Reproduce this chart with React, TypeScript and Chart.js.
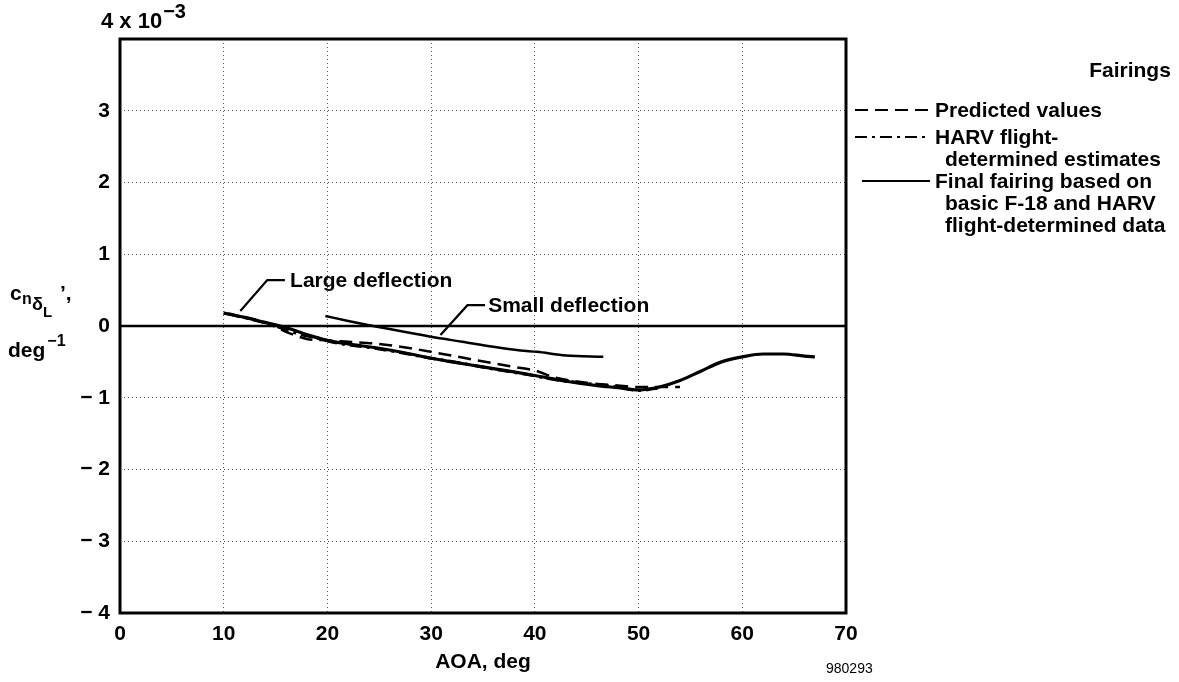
import { useEffect, useRef } from 'react';
import { Chart, registerables } from 'chart.js';

Chart.register(...registerables);

// ---------- data ----------
const X_TICKS = [0, 10, 20, 30, 40, 50, 60, 70];
const Y_TICKS = [-4, -3, -2, -1, 0, 1, 2, 3, 4];

// Final fairing, large deflection (solid)
const LARGE_AOA = [10, 12, 14, 16, 18, 20, 22, 25, 28, 30, 32, 35, 38, 40, 43, 46, 48, 50, 52, 54, 56, 58, 60, 62, 64, 66, 67];
const LARGE_FINAL = [0.18, 0.12, 0.05, -0.02, -0.12, -0.2, -0.25, -0.31, -0.39, -0.45, -0.5, -0.57, -0.64, -0.69, -0.77, -0.83, -0.86, -0.89, -0.85, -0.76, -0.63, -0.5, -0.43, -0.39, -0.39, -0.42, -0.43];

// HARV flight-determined estimates (dash-dot)
const HARV_AOA = [10.5, 13, 15, 17, 19, 21, 24, 27, 30, 33, 36, 39, 42, 45, 48, 50, 52];
const HARV_EST = [0.17, 0.08, 0.0, -0.1, -0.17, -0.24, -0.3, -0.37, -0.45, -0.52, -0.6, -0.67, -0.75, -0.8, -0.85, -0.9, -0.86];

// Predicted values (dashed)
const PRED_AOA = [10, 14, 16, 18, 20, 22, 25, 28, 30, 33, 36, 38, 40, 42, 45, 48, 50, 54];
const PRED_VAL = [0.18, 0.05, -0.08, -0.18, -0.2, -0.22, -0.25, -0.31, -0.36, -0.44, -0.52, -0.57, -0.62, -0.72, -0.79, -0.83, -0.85, -0.85];

// Final fairing, small deflection (solid)
const SMALL_AOA = [19.8, 22, 24.4, 27, 30, 33, 36, 38.6, 40.2, 43, 46.6];
const SMALL_FINAL = [0.14, 0.07, 0.0, -0.07, -0.15, -0.22, -0.29, -0.34, -0.36, -0.41, -0.43];

// annotations (data coordinates)
const LARGE_LABEL = 'Large deflection';
const LARGE_LABEL_AT = [16.4, 0.63];
const LARGE_LEADER = [[11.6, 0.21], [14.2, 0.64], [15.9, 0.64]];
const SMALL_LABEL = 'Small deflection';
const SMALL_LABEL_AT = [35.5, 0.28];
const SMALL_LEADER = [[30.9, -0.125], [33.5, 0.29], [35.2, 0.29]];

const LEGEND_TITLE = 'Fairings';
const LEGEND_PRED = ['Predicted values'];
const LEGEND_HARV = ['HARV flight-', 'determined estimates'];
const LEGEND_FINAL = ['Final fairing based on', 'basic F-18 and HARV', 'flight-determined data'];
const X_TITLE = 'AOA, deg';
const FIG_ID = '980293';

const FONT_FAMILY = '"Liberation Sans", Arial, Helvetica, sans-serif';
const BOLD = (s: number) => `bold ${s}px ${FONT_FAMILY}`;

const zip = (xs: number[], ys: number[]) => xs.map((x, i) => ({ x, y: ys[i] }));

const DASH_PRED = [13, 7];
const DASH_HARV = [12, 5, 3, 5];

const decorPlugin = {
  id: 'decor',
  beforeDatasetsDraw(chart: any) {
    const { ctx, chartArea, scales } = chart;
    const y0 = scales.y.getPixelForValue(0);
    ctx.save();
    ctx.strokeStyle = '#000';
    ctx.lineWidth = 2.5;
    ctx.beginPath();
    ctx.moveTo(chartArea.left, y0);
    ctx.lineTo(chartArea.right, y0);
    ctx.stroke();
    ctx.restore();
  },
  afterDraw(chart: any) {
    const { ctx, chartArea, scales } = chart;
    const xs = scales.x;
    const ys = scales.y;
    ctx.save();
    // frame
    ctx.strokeStyle = '#000';
    ctx.lineWidth = 3;
    ctx.strokeRect(chartArea.left, chartArea.top, chartArea.right - chartArea.left, chartArea.bottom - chartArea.top);

    // annotations
    const drawLeader = (pts: number[][]) => {
      ctx.lineWidth = 2.2;
      ctx.beginPath();
      pts.forEach((p, i) => {
        const px = xs.getPixelForValue(p[0]);
        const py = ys.getPixelForValue(p[1]);
        if (i === 0) ctx.moveTo(px, py);
        else ctx.lineTo(px, py);
      });
      ctx.stroke();
    };
    drawLeader(LARGE_LEADER);
    drawLeader(SMALL_LEADER);
    ctx.fillStyle = '#000';
    ctx.font = BOLD(21);
    ctx.textAlign = 'left';
    ctx.textBaseline = 'middle';
    ctx.fillText(LARGE_LABEL, xs.getPixelForValue(LARGE_LABEL_AT[0]), ys.getPixelForValue(LARGE_LABEL_AT[1]));
    ctx.fillText(SMALL_LABEL, xs.getPixelForValue(SMALL_LABEL_AT[0]), ys.getPixelForValue(SMALL_LABEL_AT[1]));

    // top-left exponent label
    const yTop = ys.getPixelForValue(4);
    ctx.textBaseline = 'alphabetic';
    ctx.textAlign = 'left';
    ctx.font = BOLD(22);
    const base = yTop - 11;
    ctx.fillText('4 x 10', 101, base);
    const w = ctx.measureText('4 x 10').width;
    ctx.font = BOLD(20);
    ctx.fillText('\u22123', 101 + w + 1, base - 10);

    // y title
    ctx.font = BOLD(21);
    ctx.fillText('c', 10, 300);
    ctx.font = BOLD(16);
    ctx.fillText('n', 22, 304);
    ctx.font = BOLD(18);
    ctx.fillText('\u03b4', 32, 310);
    ctx.font = BOLD(15);
    ctx.fillText('L', 43, 317);
    ctx.font = BOLD(21);
    ctx.fillText('\u2019,', 60, 300);
    ctx.fillText('deg', 8, 357);
    const dw = ctx.measureText('deg').width;
    ctx.font = BOLD(16);
    ctx.fillText('\u22121', 8 + dw + 2, 346);

    // figure id
    ctx.font = `14px ${FONT_FAMILY}`;
    ctx.fillText(FIG_ID, 826, 673);

    // legend
    ctx.font = BOLD(21);
    ctx.textBaseline = 'middle';
    ctx.textAlign = 'center';
    ctx.fillText(LEGEND_TITLE, 1130, 71);
    ctx.textAlign = 'left';
    const sample = (y: number, dash: number[], x1: number) => {
      ctx.save();
      ctx.lineWidth = 2.2;
      ctx.setLineDash(dash);
      ctx.beginPath();
      ctx.moveTo(x1, y);
      ctx.lineTo(930, y);
      ctx.stroke();
      ctx.restore();
    };
    sample(110, DASH_PRED, 855);
    ctx.fillText(LEGEND_PRED[0], 935, 111);
    sample(137, DASH_HARV, 855);
    ctx.fillText(LEGEND_HARV[0], 935, 138);
    ctx.fillText(LEGEND_HARV[1], 945, 160);
    sample(181, [], 862);
    ctx.fillText(LEGEND_FINAL[0], 935, 182);
    ctx.fillText(LEGEND_FINAL[1], 945, 204);
    ctx.fillText(LEGEND_FINAL[2], 945, 226);
    ctx.restore();
  },
};

export default function App() {
  const ref = useRef<HTMLCanvasElement | null>(null);
  useEffect(() => {
    if (!ref.current) return;
    const common = { pointRadius: 0, borderColor: '#000', fill: false, tension: 0.35, cubicInterpolationMode: 'monotone' as const };
    const chart = new Chart(ref.current, {
      type: 'line',
      data: {
        datasets: [
          { ...common, label: 'Predicted values', data: zip(PRED_AOA, PRED_VAL), borderWidth: 2.5, borderDash: DASH_PRED },
          { ...common, label: 'HARV flight-determined estimates', data: zip(HARV_AOA, HARV_EST), borderWidth: 3, borderDash: DASH_HARV },
          { ...common, label: 'Final fairing (large deflection)', data: zip(LARGE_AOA, LARGE_FINAL), borderWidth: 3.2 },
          { ...common, label: 'Final fairing (small deflection)', data: zip(SMALL_AOA, SMALL_FINAL), borderWidth: 2.5 },
        ],
      },
      options: {
        animation: false,
        responsive: false,
        maintainAspectRatio: false,
        layout: { padding: { left: 0, right: 333, top: 39, bottom: 0 } },
        plugins: { legend: { display: false }, tooltip: { enabled: false } },
        scales: {
          x: {
            type: 'linear',
            min: 0,
            max: 70,
            afterBuildTicks: (s: any) => { s.ticks = X_TICKS.map((v) => ({ value: v })); },
            afterFit: (s: any) => { s.height = 69; },
            ticks: { color: '#000', font: { family: FONT_FAMILY, size: 21, weight: 'bold' }, padding: 9, maxRotation: 0 },
            grid: { color: '#555', lineWidth: 1, drawTicks: false },
            border: { display: false, dash: [1, 3] },
            title: { display: true, text: X_TITLE, color: '#000', font: { family: FONT_FAMILY, size: 21, weight: 'bold' }, padding: { top: 0, bottom: 7 } },
          },
          y: {
            type: 'linear',
            min: -4,
            max: 4,
            afterBuildTicks: (s: any) => { s.ticks = Y_TICKS.map((v) => ({ value: v })); },
            afterFit: (s: any) => { s.width = 120; },
            ticks: {
              color: '#000',
              font: { family: FONT_FAMILY, size: 21, weight: 'bold' },
              padding: 10,
              callback: (v: any) => (v === 4 ? '' : v < 0 ? '\u2212 ' + Math.abs(v) : String(v)),
            },
            grid: { color: '#555', lineWidth: 1, drawTicks: false },
            border: { display: false, dash: [1, 3] },
          },
        },
      },
      plugins: [decorPlugin],
    });
    return () => chart.destroy();
  }, []);
  return (
    <div style={{ position: 'fixed', left: 0, top: 0, width: 1179, height: 682, background: '#fff' }}>
      <canvas ref={ref} width={1179} height={682} style={{ display: 'block' }} />
    </div>
  );
}
